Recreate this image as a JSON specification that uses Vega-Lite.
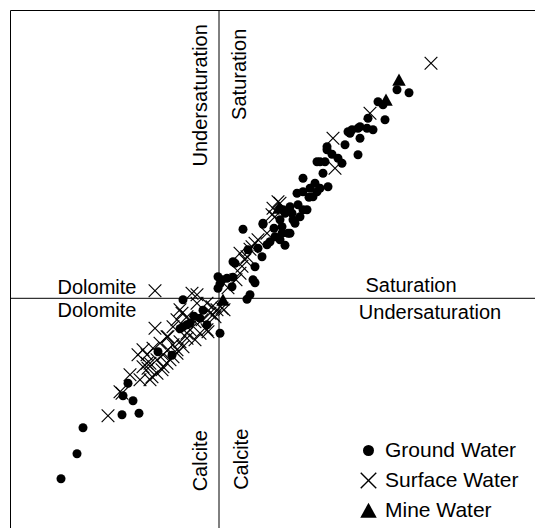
{
  "$schema": "https://vega.github.io/schema/vega-lite/v6.json",
  "width": 525,
  "height": 518,
  "autosize": {"type": "none"},
  "padding": {"left": 10, "top": 10, "right": 0, "bottom": 0},
  "background": "white",
  "view": {"stroke": null},
  "config": {
    "font": "Liberation Sans",
    "axis": {"domain": true, "domainColor": "black", "domainWidth": 1, "ticks": false, "labels": false, "grid": false, "title": null}
  },
  "datasets": {
    "points": [
      {"type": "Ground Water", "calcite": -1.58, "dolomite": -3.61},
      {"type": "Ground Water", "calcite": -1.42, "dolomite": -3.11},
      {"type": "Ground Water", "calcite": -1.36, "dolomite": -2.59},
      {"type": "Ground Water", "calcite": -0.97, "dolomite": -2.33},
      {"type": "Ground Water", "calcite": -0.80, "dolomite": -2.30},
      {"type": "Ground Water", "calcite": -0.86, "dolomite": -2.05},
      {"type": "Ground Water", "calcite": -0.96, "dolomite": -1.95},
      {"type": "Ground Water", "calcite": -0.91, "dolomite": -1.70},
      {"type": "Ground Water", "calcite": -0.61, "dolomite": -1.07},
      {"type": "Ground Water", "calcite": -0.47, "dolomite": -1.14},
      {"type": "Ground Water", "calcite": -0.36, "dolomite": -0.57},
      {"type": "Ground Water", "calcite": -0.32, "dolomite": -0.53},
      {"type": "Ground Water", "calcite": -0.39, "dolomite": -0.61},
      {"type": "Ground Water", "calcite": -0.29, "dolomite": -0.50},
      {"type": "Ground Water", "calcite": -0.16, "dolomite": -0.24},
      {"type": "Ground Water", "calcite": -0.19, "dolomite": -0.40},
      {"type": "Ground Water", "calcite": -0.12, "dolomite": -0.53},
      {"type": "Ground Water", "calcite": -0.36, "dolomite": -0.03},
      {"type": "Ground Water", "calcite": 0.01, "dolomite": -0.70},
      {"type": "Ground Water", "calcite": 0.01, "dolomite": 0.29},
      {"type": "Ground Water", "calcite": -0.01, "dolomite": 0.43},
      {"type": "Ground Water", "calcite": 0.03, "dolomite": 0.37},
      {"type": "Ground Water", "calcite": 0.08, "dolomite": 0.40},
      {"type": "Ground Water", "calcite": 0.14, "dolomite": 0.42},
      {"type": "Ground Water", "calcite": -0.01, "dolomite": 0.20},
      {"type": "Ground Water", "calcite": 0.13, "dolomite": 0.23},
      {"type": "Ground Water", "calcite": 0.28, "dolomite": -0.02},
      {"type": "Ground Water", "calcite": 0.31, "dolomite": 0.07},
      {"type": "Ground Water", "calcite": 0.36, "dolomite": 0.31},
      {"type": "Ground Water", "calcite": 0.36, "dolomite": 0.63},
      {"type": "Ground Water", "calcite": 0.14, "dolomite": 0.73},
      {"type": "Ground Water", "calcite": 0.43, "dolomite": 0.83},
      {"type": "Ground Water", "calcite": 0.29, "dolomite": 0.97},
      {"type": "Ground Water", "calcite": 0.39, "dolomite": 1.00},
      {"type": "Ground Water", "calcite": 0.48, "dolomite": 1.07},
      {"type": "Ground Water", "calcite": 0.51, "dolomite": 1.13},
      {"type": "Ground Water", "calcite": 0.56, "dolomite": 1.23},
      {"type": "Ground Water", "calcite": 0.63, "dolomite": 1.30},
      {"type": "Ground Water", "calcite": 0.69, "dolomite": 1.30},
      {"type": "Ground Water", "calcite": 0.66, "dolomite": 1.06},
      {"type": "Ground Water", "calcite": 0.24, "dolomite": 1.38},
      {"type": "Ground Water", "calcite": 0.44, "dolomite": 1.48},
      {"type": "Ground Water", "calcite": 0.61, "dolomite": 1.57},
      {"type": "Ground Water", "calcite": 0.63, "dolomite": 1.43},
      {"type": "Ground Water", "calcite": 0.66, "dolomite": 1.70},
      {"type": "Ground Water", "calcite": 0.74, "dolomite": 1.57},
      {"type": "Ground Water", "calcite": 0.64, "dolomite": 1.77},
      {"type": "Ground Water", "calcite": 0.71, "dolomite": 1.83},
      {"type": "Ground Water", "calcite": 0.79, "dolomite": 1.87},
      {"type": "Ground Water", "calcite": 0.84, "dolomite": 1.77},
      {"type": "Ground Water", "calcite": 0.81, "dolomite": 1.63},
      {"type": "Ground Water", "calcite": 0.76, "dolomite": 1.50},
      {"type": "Ground Water", "calcite": 0.88, "dolomite": 1.77},
      {"type": "Ground Water", "calcite": 0.78, "dolomite": 2.10},
      {"type": "Ground Water", "calcite": 0.84, "dolomite": 2.13},
      {"type": "Ground Water", "calcite": 0.84, "dolomite": 2.40},
      {"type": "Ground Water", "calcite": 0.91, "dolomite": 2.20},
      {"type": "Ground Water", "calcite": 0.96, "dolomite": 2.30},
      {"type": "Ground Water", "calcite": 1.01, "dolomite": 2.20},
      {"type": "Ground Water", "calcite": 1.09, "dolomite": 2.23},
      {"type": "Ground Water", "calcite": 1.04, "dolomite": 2.50},
      {"type": "Ground Water", "calcite": 1.01, "dolomite": 2.73},
      {"type": "Ground Water", "calcite": 1.06, "dolomite": 2.73},
      {"type": "Ground Water", "calcite": 1.08, "dolomite": 2.97},
      {"type": "Ground Water", "calcite": 1.19, "dolomite": 2.80},
      {"type": "Ground Water", "calcite": 1.23, "dolomite": 2.70},
      {"type": "Ground Water", "calcite": 1.26, "dolomite": 3.07},
      {"type": "Ground Water", "calcite": 1.39, "dolomite": 2.87},
      {"type": "Ground Water", "calcite": 1.31, "dolomite": 3.30},
      {"type": "Ground Water", "calcite": 1.08, "dolomite": 3.03},
      {"type": "Ground Water", "calcite": 1.41, "dolomite": 3.20},
      {"type": "Ground Water", "calcite": 1.29, "dolomite": 3.33},
      {"type": "Ground Water", "calcite": 1.33, "dolomite": 3.37},
      {"type": "Ground Water", "calcite": 1.41, "dolomite": 3.43},
      {"type": "Ground Water", "calcite": 1.48, "dolomite": 3.40},
      {"type": "Ground Water", "calcite": 1.54, "dolomite": 3.37},
      {"type": "Ground Water", "calcite": 1.49, "dolomite": 3.60},
      {"type": "Ground Water", "calcite": 1.66, "dolomite": 3.57},
      {"type": "Ground Water", "calcite": 1.59, "dolomite": 3.93},
      {"type": "Ground Water", "calcite": 1.64, "dolomite": 3.87},
      {"type": "Ground Water", "calcite": 1.78, "dolomite": 4.17},
      {"type": "Ground Water", "calcite": 1.90, "dolomite": 4.11},
      {"type": "Ground Water", "calcite": 0.44, "dolomite": 1.50},
      {"type": "Ground Water", "calcite": 0.16, "dolomite": 0.70},
      {"type": "Ground Water", "calcite": 0.94, "dolomite": 2.03},
      {"type": "Ground Water", "calcite": 0.98, "dolomite": 2.13},
      {"type": "Ground Water", "calcite": 0.98, "dolomite": 2.73},
      {"type": "Ground Water", "calcite": 1.39, "dolomite": 3.40},
      {"type": "Ground Water", "calcite": 0.71, "dolomite": 1.30},
      {"type": "Ground Water", "calcite": 0.61, "dolomite": 1.17},
      {"type": "Ground Water", "calcite": 0.34, "dolomite": 0.37},
      {"type": "Ground Water", "calcite": 0.73, "dolomite": 1.70},
      {"type": "Ground Water", "calcite": 0.90, "dolomite": 2.02},
      {"type": "Ground Water", "calcite": 1.13, "dolomite": 2.88},
      {"type": "Ground Water", "calcite": 0.55, "dolomite": 1.40},
      {"type": "Ground Water", "calcite": -0.25, "dolomite": -0.36},
      {"type": "Mine Water", "calcite": 1.80, "dolomite": 4.37},
      {"type": "Mine Water", "calcite": 1.67, "dolomite": 3.97},
      {"type": "Mine Water", "calcite": 0.04, "dolomite": -0.03},
      {"type": "Mine Water", "calcite": 0.60, "dolomite": 1.81},
      {"type": "Surface Water", "calcite": 2.12, "dolomite": 4.70},
      {"type": "Surface Water", "calcite": -1.11, "dolomite": -2.35},
      {"type": "Surface Water", "calcite": -0.64, "dolomite": 0.15},
      {"type": "Surface Water", "calcite": -0.64, "dolomite": -0.60},
      {"type": "Surface Water", "calcite": 1.51, "dolomite": 3.70},
      {"type": "Surface Water", "calcite": 1.14, "dolomite": 3.20},
      {"type": "Surface Water", "calcite": 1.16, "dolomite": 2.60},
      {"type": "Surface Water", "calcite": 0.59, "dolomite": 1.93},
      {"type": "Surface Water", "calcite": 0.54, "dolomite": 1.80},
      {"type": "Surface Water", "calcite": 0.53, "dolomite": 1.67},
      {"type": "Surface Water", "calcite": 0.21, "dolomite": 0.50},
      {"type": "Surface Water", "calcite": 0.23, "dolomite": 0.64},
      {"type": "Surface Water", "calcite": 0.26, "dolomite": 0.77},
      {"type": "Surface Water", "calcite": 0.21, "dolomite": 0.90},
      {"type": "Surface Water", "calcite": 0.28, "dolomite": 0.83},
      {"type": "Surface Water", "calcite": 0.33, "dolomite": 1.03},
      {"type": "Surface Water", "calcite": 0.36, "dolomite": 1.10},
      {"type": "Surface Water", "calcite": 0.39, "dolomite": 1.17},
      {"type": "Surface Water", "calcite": 0.48, "dolomite": 1.30},
      {"type": "Surface Water", "calcite": 0.56, "dolomite": 1.63},
      {"type": "Surface Water", "calcite": 0.61, "dolomite": 1.90},
      {"type": "Surface Water", "calcite": 0.09, "dolomite": 0.21},
      {"type": "Surface Water", "calcite": 0.17, "dolomite": 0.37},
      {"type": "Surface Water", "calcite": 0.31, "dolomite": 0.98},
      {"type": "Surface Water", "calcite": -0.27, "dolomite": 0.10},
      {"type": "Surface Water", "calcite": -0.22, "dolomite": 0.07},
      {"type": "Surface Water", "calcite": -0.12, "dolomite": -0.10},
      {"type": "Surface Water", "calcite": -0.07, "dolomite": -0.17},
      {"type": "Surface Water", "calcite": -0.02, "dolomite": -0.23},
      {"type": "Surface Water", "calcite": -0.04, "dolomite": -0.37},
      {"type": "Surface Water", "calcite": -0.09, "dolomite": -0.30},
      {"type": "Surface Water", "calcite": -0.17, "dolomite": -0.43},
      {"type": "Surface Water", "calcite": -0.24, "dolomite": -0.47},
      {"type": "Surface Water", "calcite": -0.29, "dolomite": -0.63},
      {"type": "Surface Water", "calcite": -0.32, "dolomite": -0.80},
      {"type": "Surface Water", "calcite": -0.39, "dolomite": -0.87},
      {"type": "Surface Water", "calcite": -0.46, "dolomite": -0.93},
      {"type": "Surface Water", "calcite": -0.51, "dolomite": -1.03},
      {"type": "Surface Water", "calcite": -0.56, "dolomite": -1.13},
      {"type": "Surface Water", "calcite": -0.62, "dolomite": -1.23},
      {"type": "Surface Water", "calcite": -0.69, "dolomite": -1.30},
      {"type": "Surface Water", "calcite": -0.76, "dolomite": -1.37},
      {"type": "Surface Water", "calcite": -0.42, "dolomite": -0.43},
      {"type": "Surface Water", "calcite": -0.37, "dolomite": -0.30},
      {"type": "Surface Water", "calcite": -0.46, "dolomite": -0.57},
      {"type": "Surface Water", "calcite": -0.52, "dolomite": -0.77},
      {"type": "Surface Water", "calcite": -0.59, "dolomite": -0.90},
      {"type": "Surface Water", "calcite": -0.66, "dolomite": -1.00},
      {"type": "Surface Water", "calcite": -0.72, "dolomite": -1.13},
      {"type": "Surface Water", "calcite": -0.24, "dolomite": -0.83},
      {"type": "Surface Water", "calcite": -0.36, "dolomite": -0.97},
      {"type": "Surface Water", "calcite": -0.42, "dolomite": -1.10},
      {"type": "Surface Water", "calcite": -0.49, "dolomite": -1.23},
      {"type": "Surface Water", "calcite": -0.56, "dolomite": -1.37},
      {"type": "Surface Water", "calcite": -0.32, "dolomite": -0.70},
      {"type": "Surface Water", "calcite": -0.12, "dolomite": -0.63},
      {"type": "Surface Water", "calcite": -0.19, "dolomite": -0.70},
      {"type": "Surface Water", "calcite": 0.05, "dolomite": -0.23},
      {"type": "Surface Water", "calcite": -0.89, "dolomite": -1.53},
      {"type": "Surface Water", "calcite": -0.99, "dolomite": -1.87},
      {"type": "Surface Water", "calcite": -0.81, "dolomite": -1.13},
      {"type": "Surface Water", "calcite": -0.71, "dolomite": -1.40},
      {"type": "Surface Water", "calcite": -0.79, "dolomite": -1.63},
      {"type": "Surface Water", "calcite": -0.69, "dolomite": -1.63},
      {"type": "Surface Water", "calcite": -0.62, "dolomite": -1.50},
      {"type": "Surface Water", "calcite": -0.57, "dolomite": -1.43},
      {"type": "Surface Water", "calcite": -0.52, "dolomite": -1.30},
      {"type": "Surface Water", "calcite": -0.46, "dolomite": -1.17},
      {"type": "Surface Water", "calcite": -0.42, "dolomite": -1.03},
      {"type": "Surface Water", "calcite": -0.51, "dolomite": -0.77},
      {"type": "Surface Water", "calcite": -0.76, "dolomite": -1.03},
      {"type": "Surface Water", "calcite": -0.39, "dolomite": -0.23},
      {"type": "Surface Water", "calcite": -0.32, "dolomite": -0.37},
      {"type": "Surface Water", "calcite": -0.22, "dolomite": -0.10},
      {"type": "Surface Water", "calcite": -0.06, "dolomite": -0.33},
      {"type": "Surface Water", "calcite": 0.03, "dolomite": -0.20},
      {"type": "Surface Water", "calcite": -0.11, "dolomite": -0.67},
      {"type": "Surface Water", "calcite": -0.72, "dolomite": -1.30},
      {"type": "Surface Water", "calcite": -0.67, "dolomite": -1.57},
      {"type": "Surface Water", "calcite": -0.97, "dolomite": -1.90}
    ],
    "hlabels": [
      {"label": "Dolomite", "calcite": -1.22, "dolomite": 0.08},
      {"label": "Dolomite", "calcite": -1.22, "dolomite": -0.38},
      {"label": "Saturation", "calcite": 1.92, "dolomite": 0.12},
      {"label": "Undersaturation", "calcite": 2.11, "dolomite": -0.41}
    ],
    "vlabels": [
      {"label": "Undersaturation", "calcite": -0.12, "dolomite": 4.06},
      {"label": "Saturation", "calcite": 0.266, "dolomite": 4.48},
      {"label": "Calcite", "calcite": -0.12, "dolomite": -3.25},
      {"label": "Calcite", "calcite": 0.294, "dolomite": -3.22}
    ],
    "zero": [{"v": 0}]
  },
  "layer": [
    {
      "data": {"name": "zero"},
      "mark": {"type": "rule", "color": "black", "strokeWidth": 1},
      "encoding": {"x": {"field": "v", "type": "quantitative"}}
    },
    {
      "data": {"name": "zero"},
      "mark": {"type": "rule", "color": "black", "strokeWidth": 1},
      "encoding": {"y": {"field": "v", "type": "quantitative"}}
    },
    {
      "data": {"name": "points"},
      "mark": {"type": "point", "filled": true, "color": "black", "size": 81, "opacity": 1},
      "encoding": {
        "x": {"field": "calcite", "type": "quantitative", "scale": {"domain": [-2.09, 3.16], "nice": false, "zero": false}, "axis": {"orient": "top"}},
        "y": {"field": "dolomite", "type": "quantitative", "scale": {"domain": [-4.594, 5.766], "nice": false, "zero": false}, "axis": {"orient": "left"}},
        "shape": {
          "field": "type", "type": "nominal",
          "scale": {"domain": ["Ground Water", "Surface Water", "Mine Water"], "range": ["circle", "M0,-0.18L1.32,-1.5L1.5,-1.32L0.18,0L1.5,1.32L1.32,1.5L0,0.18L-1.32,1.5L-1.5,1.32L-0.18,0L-1.5,-1.32L-1.32,-1.5Z", "M0,-1.4L1.5,1.3L-1.5,1.3Z"]},
          "legend": {
            "orient": "none", "legendX": 348, "legendY": 430, "title": null,
            "labelFont": "Liberation Sans", "labelFontSize": 21, "labelColor": "black", "labelOffset": 6,
            "symbolSize": 121, "symbolStrokeWidth": 0, "symbolFillColor": "black",
            "rowPadding": 8, "padding": 0,
            "encode": {"symbols": {"update": {"fill": {"value": "black"}, "fillOpacity": {"value": 1}, "opacity": {"value": 1}}}}
          }
        }
      }
    },
    {
      "data": {"name": "hlabels"},
      "mark": {"type": "text", "font": "Liberation Sans", "fontSize": 20, "color": "black", "align": "center", "baseline": "alphabetic"},
      "encoding": {
        "x": {"field": "calcite", "type": "quantitative"},
        "y": {"field": "dolomite", "type": "quantitative"},
        "text": {"field": "label"}
      }
    },
    {
      "data": {"name": "vlabels"},
      "mark": {"type": "text", "font": "Liberation Sans", "fontSize": 20, "color": "black", "align": "center", "baseline": "alphabetic", "angle": 270},
      "encoding": {
        "x": {"field": "calcite", "type": "quantitative"},
        "y": {"field": "dolomite", "type": "quantitative"},
        "text": {"field": "label"}
      }
    }
  ]
}
